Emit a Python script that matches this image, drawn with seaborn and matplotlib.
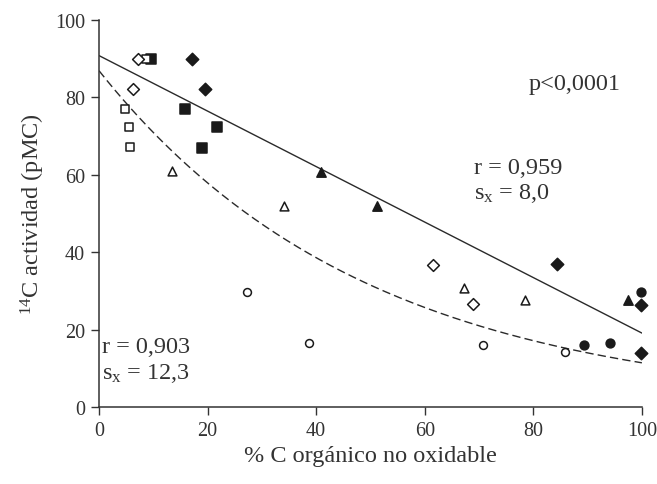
import numpy as np
import pandas as pd
import matplotlib
matplotlib.use("Agg")
import matplotlib.pyplot as plt
import seaborn as sns

# --- datos ---
sq_fill_x = [9.5, 15.8, 21.7, 18.9]
sq_fill_y = [90.0, 77.0, 72.3, 66.8]
sq_open_x = [8.6, 4.8, 5.6, 5.7]
sq_open_y = [90.0, 77.0, 72.3, 67.1]
dia_fill_x = [17.1, 19.5, 84.4, 99.8, 99.8]
dia_fill_y = [90.0, 82.2, 37.0, 26.4, 14.0]
dia_open_x = [7.2, 6.3, 61.6, 68.8]
dia_open_y = [90.0, 82.2, 36.8, 26.6]
tri_fill_x = [40.9, 51.2, 97.5]
tri_fill_y = [60.8, 52.0, 27.6]
tri_open_x = [13.4, 34.1, 67.2, 78.5]
tri_open_y = [61.1, 52.0, 30.7, 27.7]
cir_fill_x = [89.3, 94.1, 99.8]
cir_fill_y = [16.1, 16.5, 29.6]
cir_open_x = [27.2, 38.7, 70.8, 85.8]
cir_open_y = [29.6, 16.5, 16.1, 14.1]

# ajustes: lineal (símbolos llenos) y exponencial (símbolos vacíos)
lin_intercept, lin_slope = 90.8, -0.717
exp_a, exp_k = 86.9, 0.0203

x_ticks = [0, 20, 40, 60, 80, 100]
y_ticks = [0, 20, 40, 60, 80, 100]

sns.set_theme(style="ticks")
plt.rcParams['font.family'] = ['Liberation Serif', 'DejaVu Serif']
plt.rcParams['mathtext.fontset'] = 'custom'
plt.rcParams['mathtext.rm'] = 'Liberation Serif'
plt.rcParams['mathtext.it'] = 'Liberation Serif:italic'

fig = plt.figure(figsize=(6.57, 4.85), dpi=100)
ax = fig.add_axes([0.1507, 0.1588, 0.8263, 0.7979])

ink = "#1a1a1a"
grupos = [
    (sq_fill_x, sq_fill_y, "s", True, 45),
    (sq_open_x, sq_open_y, "s", False, 40),
    (dia_fill_x, dia_fill_y, "D", True, 40),
    (dia_open_x, dia_open_y, "D", False, 36),
    (tri_fill_x, tri_fill_y, "^", True, 45),
    (tri_open_x, tri_open_y, "^", False, 40),
    (cir_fill_x, cir_fill_y, "o", True, 40),
    (cir_open_x, cir_open_y, "o", False, 32),
]
for gx, gy, mk, filled, size in grupos:
    df = pd.DataFrame({"x": gx, "y": gy})
    sns.scatterplot(data=df, x="x", y="y", ax=ax, marker=mk, s=size,
                    facecolor=ink if filled else "white", edgecolor=ink,
                    linewidth=1.1, clip_on=False, zorder=3)

xx = np.linspace(0, 100, 200)
ax.plot(xx, lin_intercept + lin_slope * xx, color="#2a2a2a", lw=1.0, zorder=2)
ax.plot(xx, exp_a * np.exp(-exp_k * xx), color="#2a2a2a", lw=1.0,
        dashes=(6, 3), zorder=2)

ax.set_xlim(0, 100)
ax.set_ylim(0, 100)
ax.set_xticks(x_ticks)
ax.set_yticks(y_ticks)
ax.tick_params(labelsize=14.5, colors="#333333", length=6, width=1, pad=4)
ax.set_xlabel("% C orgánico no oxidable", fontsize=17.5, color="#333333", labelpad=4)
ax.set_ylabel(r"$^{14}$C actividad (pMC)", fontsize=17.5, color="#333333", labelpad=6)
sns.despine(ax=ax)
for sp in ["left", "bottom"]:
    ax.spines[sp].set_color("#333333")
    ax.spines[sp].set_linewidth(1.1)

txt = dict(fontsize=17.5, color="#333333", va="center", ha="left")
ax.text(79.1, 83.5, "p<0,0001", **txt)
ax.text(69.0, 61.8, "r = 0,959", **txt)
ax.text(69.0, 55.3, r"s$_{\mathrm{x}}$ = 8,0", **txt)
ax.text(0.6, 15.5, "r = 0,903", **txt)
ax.text(0.6, 9.0, r"s$_{\mathrm{x}}$ = 12,3", **txt)

fig.savefig("out.png", dpi=100)
